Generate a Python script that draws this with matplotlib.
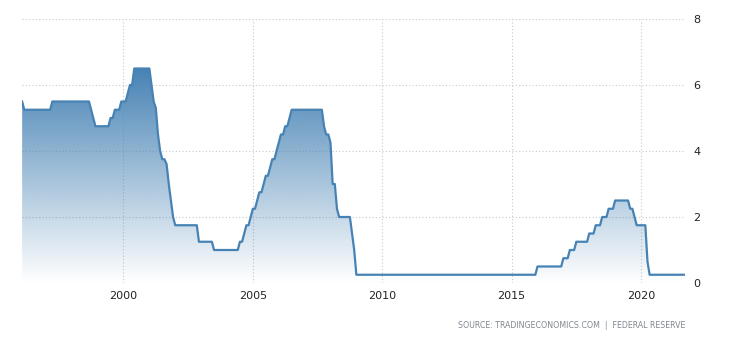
import matplotlib
matplotlib.use("Agg")
import matplotlib.pyplot as plt
import numpy as np
from matplotlib.patches import Polygon

# Vertex dates (end of month) and rate values (%)
dates = [
    "1996-01", "1996-02", "1997-02", "1997-03", "1998-08", "1998-09", "1998-10", "1998-11",
    "1999-05", "1999-06", "1999-07", "1999-08", "1999-10", "1999-11", "2000-01", "2000-02",
    "2000-03", "2000-04", "2000-05", "2000-12", "2001-01", "2001-02", "2001-03", "2001-04",
    "2001-05", "2001-06", "2001-07", "2001-08", "2001-09", "2001-10", "2001-11", "2001-12",
    "2002-10", "2002-11", "2003-05", "2003-06", "2004-05", "2004-06", "2004-07", "2004-08",
    "2004-09", "2004-10", "2004-11", "2004-12", "2005-01", "2005-02", "2005-03", "2005-04",
    "2005-05", "2005-06", "2005-07", "2005-08", "2005-09", "2005-10", "2005-11", "2005-12",
    "2006-01", "2006-02", "2006-03", "2006-04", "2006-05", "2006-06", "2007-08", "2007-09",
    "2007-10", "2007-11", "2007-12", "2008-01", "2008-02", "2008-03", "2008-04", "2008-09",
    "2008-10", "2008-11", "2008-12", "2015-11", "2015-12", "2016-11", "2016-12", "2017-02",
    "2017-03", "2017-05", "2017-06", "2017-11", "2017-12", "2018-02", "2018-03", "2018-05",
    "2018-06", "2018-08", "2018-09", "2018-11", "2018-12", "2019-06", "2019-07", "2019-08",
    "2019-09", "2019-10", "2020-02", "2020-03", "2020-04", "2021-09",
]
rates = [
    5.5, 5.25, 5.25, 5.5, 5.5, 5.25, 5.0, 4.75,
    4.75, 5.0, 5.0, 5.25, 5.25, 5.5, 5.5, 5.75,
    6.0, 6.0, 6.5, 6.5, 6.0, 5.5, 5.3, 4.5,
    4.0, 3.75, 3.75, 3.6, 3.0, 2.5, 2.0, 1.75,
    1.75, 1.25, 1.25, 1.0, 1.0, 1.25, 1.25, 1.5,
    1.75, 1.75, 2.0, 2.25, 2.25, 2.5, 2.75, 2.75,
    3.0, 3.25, 3.25, 3.5, 3.75, 3.75, 4.0, 4.25,
    4.5, 4.5, 4.75, 4.75, 5.0, 5.25, 5.25, 4.75,
    4.5, 4.5, 4.25, 3.0, 3.0, 2.25, 2.0, 2.0,
    1.5, 1.0, 0.25, 0.25, 0.5, 0.5, 0.75, 0.75,
    1.0, 1.0, 1.25, 1.25, 1.5, 1.5, 1.75, 1.75,
    2.0, 2.0, 2.25, 2.25, 2.5, 2.5, 2.25, 2.25,
    2.0, 1.75, 1.75, 0.65, 0.25, 0.25,
]
x_ticks = [2000, 2005, 2010, 2015, 2020]
y_ticks = [0, 2, 4, 6, 8]
source_text = "SOURCE: TRADINGECONOMICS.COM  |  FEDERAL RESERVE"

x = np.array([int(d[:4]) + int(d[5:7]) / 12.0 for d in dates])
y = np.array(rates)

line_color = "#4682b4"

fig = plt.figure(figsize=(7.3, 3.4), dpi=100)
ax = fig.add_axes([22 / 730, (340 - 283) / 340, (685 - 22) / 730, (283 - 19) / 340])

xmin, xmax = x[0] - 0.005, 2021.70
ax.set_xlim(xmin, xmax)
ax.set_ylim(0, 8)

# gradient fill clipped to area under curve
ymax = y.max()
grad = np.linspace(0, 1, 256).reshape(-1, 1)
rgba = np.zeros((256, 1, 4))
base = matplotlib.colors.to_rgb(line_color)
rgba[..., 0] = base[0]
rgba[..., 1] = base[1]
rgba[..., 2] = base[2]
rgba[..., 3] = grad
im = ax.imshow(rgba, extent=[xmin, xmax, 0, ymax], origin="lower", aspect="auto", zorder=1)
verts = np.column_stack([np.concatenate([[x[0]], x, [x[-1]]]), np.concatenate([[0], y, [0]])])
poly = Polygon(verts, closed=True, facecolor="none", edgecolor="none")
ax.add_patch(poly)
im.set_clip_path(poly)

ax.plot(x, y, color=line_color, lw=1.6, zorder=3, solid_joinstyle="round")

for s in ax.spines.values():
    s.set_visible(False)
ax.set_xticks(x_ticks)
ax.set_yticks(y_ticks)
ax.yaxis.tick_right()
ax.tick_params(axis="both", length=0, labelsize=8, colors="#222222")
ax.tick_params(axis="y", pad=6)
ax.tick_params(axis="x", pad=6)
ax.grid(True, color="#c8c8c8", linestyle=(0, (1, 2)), linewidth=0.8, zorder=0)
ax.set_axisbelow(True)

fig.text(685 / 730, 1 - 325.5 / 340, source_text, ha="right", va="center", fontsize=5.7,
         color="#808890")

fig.savefig("out.png", dpi=100)
